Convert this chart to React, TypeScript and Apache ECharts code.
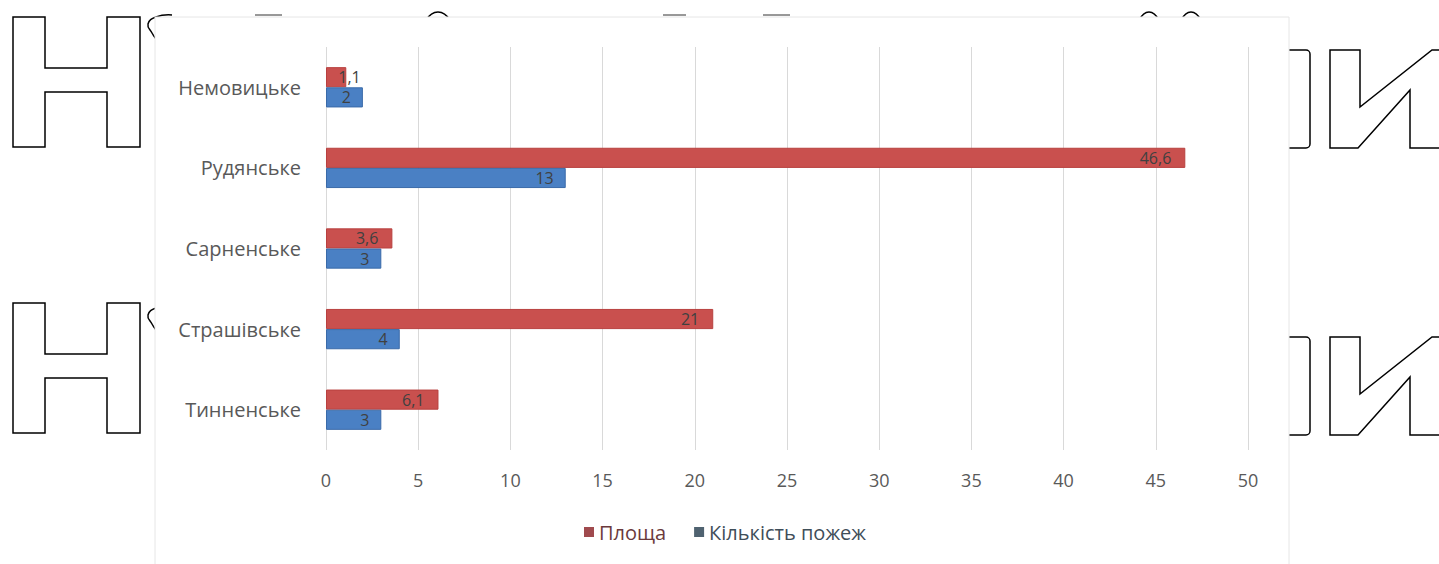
import React, { useEffect, useRef } from "react";
import * as echarts from "echarts";

const categories = ["Немовицьке", "Рудянське", "Сарненське", "Страшівське", "Тинненське"];
const areaValues = [1.1, 46.6, 3.6, 21, 6.1];
const fireCounts = [2, 13, 3, 4, 3];
const seriesNames = ["Площа", "Кількість пожеж"];
const xTicks = [0, 5, 10, 15, 20, 25, 30, 35, 40, 45, 50];

const FONT = "'Open Sans', 'DejaVu Sans', sans-serif";

function letterH(dy: number) {
  return {
    type: "polygon",
    z: -10,
    shape: {
      points: [
        [13, 17 + dy], [45, 17 + dy], [45, 68 + dy], [107, 68 + dy], [107, 17 + dy], [140, 17 + dy],
        [140, 147 + dy], [107, 147 + dy], [107, 92 + dy], [45, 92 + dy], [45, 147 + dy], [13, 147 + dy],
      ],
    },
    style: { fill: "#fff", stroke: "#000", lineWidth: 1.5 },
  };
}

function letterI(dy: number) {
  return {
    type: "rect",
    z: -10,
    shape: { x: 1272, y: 50 + dy, width: 38, height: 98, r: 4 },
    style: { fill: "#fff", stroke: "#000", lineWidth: 1.5 },
  };
}

function letterIi(dy: number) {
  return {
    type: "polygon",
    z: -10,
    shape: {
      points: [
        [1330, 50 + dy], [1360, 50 + dy], [1360, 107 + dy], [1432, 50 + dy], [1470, 50 + dy],
        [1470, 148 + dy], [1410, 148 + dy], [1410, 90 + dy], [1358, 148 + dy], [1330, 148 + dy],
      ],
    },
    style: { fill: "#fff", stroke: "#000", lineWidth: 1.5 },
  };
}

function hook(dy: number) {
  return {
    type: "polyline",
    z: -10,
    shape: { points: [[172, 15 + dy], [156, 17 + dy], [148, 24 + dy], [152, 33 + dy], [156, 39 + dy]], smooth: 0.5 },
    style: { fill: "none", stroke: "#000", lineWidth: 1.5 },
  };
}

function topArc(cx: number, w: number) {
  return {
    type: "ellipse",
    z: -10,
    shape: { cx, cy: 40, rx: w / 2, ry: 28 },
    style: { fill: "#fff", stroke: "#000", lineWidth: 1.5 },
  };
}

function dash(x1: number, x2: number) {
  return {
    type: "line",
    z: -10,
    shape: { x1, y1: 15, x2, y2: 15 },
    style: { stroke: "#333", lineWidth: 1 },
  };
}

const fmt = (p: any) => String(p.value).replace(".", ",");

export default function App() {
  const ref = useRef<HTMLDivElement>(null);
  useEffect(() => {
    if (!ref.current) return;
    const chart = echarts.init(ref.current, null, { renderer: "svg" });
    chart.setOption({
      animation: false,
      backgroundColor: "#ffffff",
      graphic: [
        letterH(0),
        letterH(286),
        hook(0),
        hook(291),
        letterI(0),
        letterI(287),
        letterIi(0),
        letterIi(287),
        topArc(438, 34),
        topArc(1149, 28),
        topArc(1191, 28),
        dash(255, 282),
        dash(663, 686),
        dash(763, 790),
        {
          type: "rect",
          z: -5,
          shape: { x: 155, y: 17, width: 1134, height: 560 },
          style: { fill: "#fff", stroke: "#e6e6e6", lineWidth: 1 },
        },
      ],
      legend: {
        left: 579,
        top: 517,
        itemWidth: 10,
        itemHeight: 10,
        itemGap: 28,
        icon: "rect",
        textStyle: { fontFamily: FONT, fontSize: 20 },
        data: [
          {
            name: seriesNames[0],
            itemStyle: { color: "#a04a4e", borderWidth: 0, borderColor: "#a04a4e" },
            textStyle: { color: "#6b3a3c" },
          },
          {
            name: seriesNames[1],
            itemStyle: { color: "#4f6270", borderWidth: 0, borderColor: "#4f6270" },
            textStyle: { color: "#3f4e59" },
          },
        ],
      },
      grid: { left: 326, right: 191, top: 47, bottom: 114 },
      xAxis: {
        type: "value",
        min: 0,
        max: 50,
        interval: 5,
        axisLine: { show: false },
        axisTick: { show: false },
        splitLine: { lineStyle: { color: "#d9d9d9", width: 1 } },
        axisLabel: {
          margin: 21,
          color: "#595959",
          fontFamily: FONT,
          fontSize: 18,
          formatter: (v: number) => (xTicks.includes(v) ? String(v) : ""),
        },
      },
      yAxis: {
        type: "category",
        data: categories,
        inverse: true,
        axisLine: { show: false },
        axisTick: { show: false },
        axisLabel: { margin: 25, color: "#595959", fontFamily: FONT, fontSize: 20 },
      },
      series: [
        {
          name: seriesNames[0],
          type: "bar",
          barGap: "0%",
          barCategoryGap: "50%",
          itemStyle: { color: "#c9504e", borderColor: "#b8403f", borderWidth: 1 },
          label: {
            show: true,
            position: "insideRight",
            distance: 14,
            color: "#404040",
            fontFamily: FONT,
            fontSize: 16,
            lineHeight: 18,
            formatter: fmt,
          },
          data: areaValues.map((v, i) =>
            i === 0 ? { value: v, label: { position: "right", distance: -8 } } : v
          ),
        },
        {
          name: seriesNames[1],
          type: "bar",
          barGap: "0%",
          barCategoryGap: "50%",
          itemStyle: { color: "#4a80c4", borderColor: "#3a6aa8", borderWidth: 1 },
          label: {
            show: true,
            position: "insideRight",
            distance: 12,
            color: "#404040",
            fontFamily: FONT,
            fontSize: 16,
            lineHeight: 18,
            formatter: fmt,
          },
          data: fireCounts,
        },
      ],
    });
    return () => chart.dispose();
  }, []);
  return (
    <div
      ref={ref}
      style={{ position: "fixed", left: 0, top: 0, width: 1439, height: 564 }}
    />
  );
}
